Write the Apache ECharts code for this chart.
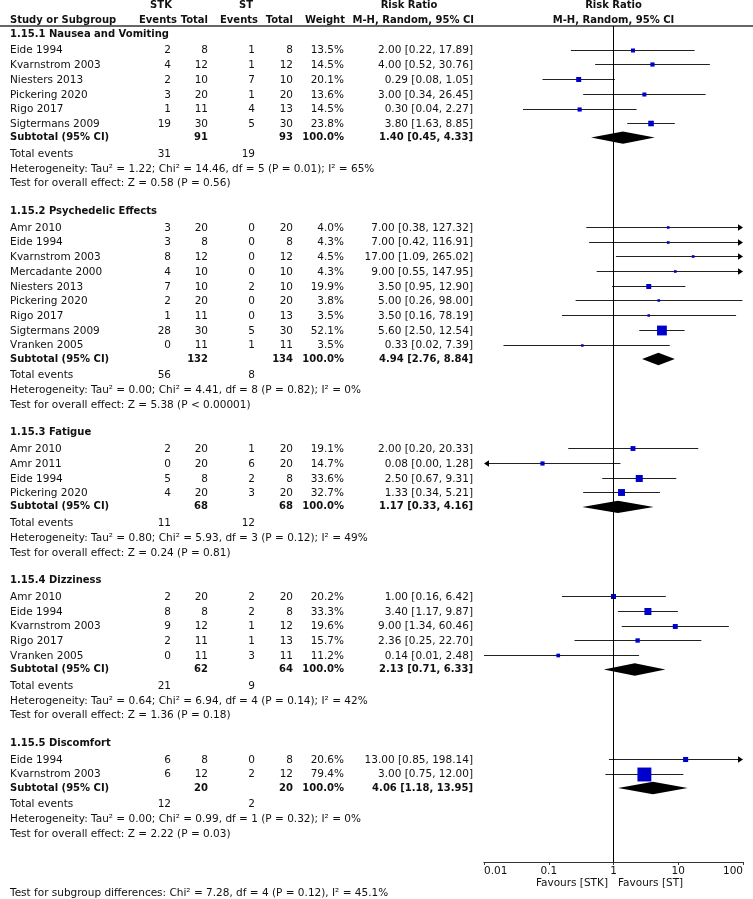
<!DOCTYPE html>
<html><head><meta charset="utf-8">
<script src="https://cdn.jsdelivr.net/npm/echarts@6/dist/echarts.min.js"></script>
<style>html,body{margin:0;padding:0;background:#fff}#c{width:753px;height:899px}</style>
</head><body><div id="c"></div><script>
// ---------- DATA ----------
const groupTitles = ['1.15.1 Nausea and Vomiting','1.15.2 Psychedelic Effects','1.15.3 Fatigue','1.15.4 Dizziness','1.15.5 Discomfort'];
const studyNames = [
  ['Eide 1994','Kvarnstrom 2003','Niesters 2013','Pickering 2020','Rigo 2017','Sigtermans 2009'],
  ['Amr 2010','Eide 1994','Kvarnstrom 2003','Mercadante 2000','Niesters 2013','Pickering 2020','Rigo 2017','Sigtermans 2009','Vranken 2005'],
  ['Amr 2010','Amr 2011','Eide 1994','Pickering 2020'],
  ['Amr 2010','Eide 1994','Kvarnstrom 2003','Rigo 2017','Vranken 2005'],
  ['Eide 1994','Kvarnstrom 2003']
];
const stkEvents = [[2,4,2,3,1,19],[3,3,8,4,7,2,1,28,0],[2,0,5,4],[2,8,9,2,0],[6,6]];
const stkTotal  = [[8,12,10,20,11,30],[20,8,12,10,10,20,11,30,11],[20,20,8,20],[20,8,12,11,11],[8,12]];
const stEvents  = [[1,1,7,1,4,5],[0,0,0,0,2,0,0,5,1],[1,6,2,3],[2,2,1,1,3],[0,2]];
const stTotal   = [[8,12,10,20,13,30],[20,8,12,10,10,20,13,30,11],[20,20,8,20],[20,8,12,13,11],[8,12]];
const weights   = [[13.5,14.5,20.1,13.6,14.5,23.8],[4.0,4.3,4.5,4.3,19.9,3.8,3.5,52.1,3.5],[19.1,14.7,33.6,32.7],[20.2,33.3,19.6,15.7,11.2],[20.6,79.4]];
const riskRatio = [[2.00,4.00,0.29,3.00,0.30,3.80],[7.00,7.00,17.00,9.00,3.50,5.00,3.50,5.60,0.33],[2.00,0.08,2.50,1.33],[1.00,3.40,9.00,2.36,0.14],[13.00,3.00]];
const ciLower   = [[0.22,0.52,0.08,0.34,0.04,1.63],[0.38,0.42,1.09,0.55,0.95,0.26,0.16,2.50,0.02],[0.20,0.00,0.67,0.34],[0.16,1.17,1.34,0.25,0.01],[0.85,0.75]];
const ciUpper   = [[17.89,30.76,1.05,26.45,2.27,8.85],[127.32,116.91,265.02,147.95,12.90,98.00,78.19,12.54,7.39],[20.33,1.28,9.31,5.21],[6.42,9.87,60.46,22.70,2.48],[198.14,12.00]];
const subStkTotal = [91,132,68,62,20];
const subStTotal  = [93,134,68,64,20];
const subRiskRatio = [1.40,4.94,1.17,2.13,4.06];
const subLower = [0.45,2.76,0.33,0.71,1.18];
const subUpper = [4.33,8.84,4.16,6.33,13.95];
const totStkEvents = [31,56,11,21,12];
const totStEvents  = [19,8,12,9,2];
const tau2  = ['1.22','0.00','0.80','0.64','0.00'];
const chi2  = ['14.46','4.41','5.93','6.94','0.99'];
const hetDf = [5,8,3,4,1];
const hetP  = ['0.01','0.82','0.12','0.14','0.32'];
const i2    = [65,0,49,42,0];
const zValue = ['0.58','5.38','0.24','1.36','2.22'];
const zP     = ['P = 0.56','P < 0.00001','P = 0.81','P = 0.18','P = 0.03'];
const subgroupTest = 'Test for subgroup differences: Chi\u00B2 = 7.28, df = 4 (P = 0.12), I\u00B2 = 45.1%';
const tickValues = [0.01,0.1,1,10,100];
const tickLabels = ['0.01','0.1','1','10','100'];
const favourLeft = 'Favours [STK]';
const favourRight = 'Favours [ST]';

// ---------- LAYOUT ----------
const FONT = 'DejaVu Sans';
const REG = 10.5, BOLD = 10;
const TXT = '#111';
const L = {first:34, headToStudy:16.7, pitch:14.7, studyToSub:13.4, subToTot:16.7, totToHet:14.6, hetToTest:14.7, testToHead:27.7, rule:26, axis:862, subgroupY:893};
const COL = {name:10, e1:171, t1:208, e2:255, t2:293, w:344, ci:473};
const X_MIN = 0.01, X_MAX = 100;

const fmtCI = (r, lo, hi) => r.toFixed(2) + ' [' + lo.toFixed(2) + ', ' + hi.toFixed(2) + ']';
const texts = [];
const studyMarks = [];
const diamonds = [];
function T(x, y, t, a, b) { texts.push({x, y, t, a, b: !!b}); }

// headers
T(161, 5, 'STK', 'center', true);
T(246, 5, 'ST', 'center', true);
T(409, 5, 'Risk Ratio', 'center', true);
T(COL.name, 20, 'Study or Subgroup', 'left', true);
T(177, 20, 'Events', 'right', true);
T(208, 20, 'Total', 'right', true);
T(258, 20, 'Events', 'right', true);
T(293, 20, 'Total', 'right', true);
T(345, 20, 'Weight', 'right', true);
T(474, 20, 'M-H, Random, 95% CI', 'right', true);

let y = L.first;
groupTitles.forEach((title, g) => {
  T(COL.name, y, title, 'left', true);
  y += L.headToStudy;
  studyNames[g].forEach((nm, i) => {
    T(COL.name, y, nm, 'left');
    T(COL.e1, y, String(stkEvents[g][i]), 'right');
    T(COL.t1, y, String(stkTotal[g][i]), 'right');
    T(COL.e2, y, String(stEvents[g][i]), 'right');
    T(COL.t2, y, String(stTotal[g][i]), 'right');
    T(COL.w, y, weights[g][i].toFixed(1) + '%', 'right');
    T(COL.ci, y, fmtCI(riskRatio[g][i], ciLower[g][i], ciUpper[g][i]), 'right');
    studyMarks.push([riskRatio[g][i], y, ciLower[g][i], ciUpper[g][i], weights[g][i]]);
    y += L.pitch;
  });
  y += L.studyToSub - L.pitch;
  T(COL.name, y, 'Subtotal (95% CI)', 'left', true);
  T(COL.t1, y, String(subStkTotal[g]), 'right', true);
  T(COL.t2, y, String(subStTotal[g]), 'right', true);
  T(COL.w, y, '100.0%', 'right', true);
  T(COL.ci, y, fmtCI(subRiskRatio[g], subLower[g], subUpper[g]), 'right', true);
  diamonds.push([subRiskRatio[g], y, subLower[g], subUpper[g]]);
  y += L.subToTot;
  T(COL.name, y, 'Total events', 'left');
  T(COL.e1, y, String(totStkEvents[g]), 'right');
  T(COL.e2, y, String(totStEvents[g]), 'right');
  y += L.totToHet;
  T(COL.name, y, 'Heterogeneity: Tau\u00B2 = ' + tau2[g] + '; Chi\u00B2 = ' + chi2[g] + ', df = ' + hetDf[g] + ' (P = ' + hetP[g] + '); I\u00B2 = ' + i2[g] + '%', 'left');
  y += L.hetToTest;
  T(COL.name, y, 'Test for overall effect: Z = ' + zValue[g] + ' (' + zP[g] + ')', 'left');
  y += L.testToHead;
});
T(COL.name, L.subgroupY, subgroupTest, 'left');

// ---------- CHART ----------
const chart = echarts.init(document.getElementById('c'), null, {renderer:'canvas', width:753, height:899});

function textEl(p, t, align, bold, size) {
  return {type:'text', x:p[0], y:p[1], silent:true,
    style:{text:t, fill:TXT, fontFamily:FONT, fontSize:size || (bold ? BOLD : REG), fontWeight: bold ? 'bold' : 'normal', align:align, verticalAlign:'middle'}};
}

const option = {
  animation:false,
  backgroundColor:'#fff',
  grid:[
    {left:0, top:0, width:753, height:899},
    {left:484, top:L.rule, width:259, height:L.axis - L.rule}
  ],
  xAxis:[
    {gridIndex:0, type:'value', min:0, max:753, show:false},
    {gridIndex:1, type:'log', logBase:10, min:X_MIN, max:X_MAX,
      axisLine:{show:true, lineStyle:{color:'#333', width:1.2}},
      axisTick:{show:true, length:3, lineStyle:{color:'#333', width:1}},
      axisLabel:{color:TXT, fontFamily:FONT, fontSize:10.5, margin:4,
        alignMinLabel:'left', alignMaxLabel:'right',
        formatter: v => { const k = tickValues.findIndex(t => Math.abs(Math.log10(t) - Math.log10(v)) < 1e-6); return k >= 0 ? tickLabels[k] : ''; }},
      splitLine:{show:false}, minorTick:{show:false}}
  ],
  yAxis:[
    {gridIndex:0, type:'value', min:0, max:899, inverse:true, show:false},
    {gridIndex:1, type:'value', min:L.rule, max:L.axis, inverse:true, show:false}
  ],
  series:[
    // header rule
    {type:'line', xAxisIndex:0, yAxisIndex:0, data:[[0, L.rule],[753, L.rule]], symbol:'none', silent:true,
      lineStyle:{color:'#333', width:1.3}},
    // table text
    {type:'custom', xAxisIndex:0, yAxisIndex:0, silent:true,
      data: texts.map(c => [c.x, c.y]),
      renderItem:(params, api) => {
        const c = texts[params.dataIndex];
        return textEl(api.coord([api.value(0), api.value(1)]), c.t, c.a, c.b);
      }},
    // line of no effect
    {type:'line', xAxisIndex:1, yAxisIndex:1, data:[[1, L.rule],[1, L.axis]], symbol:'none', silent:true,
      lineStyle:{color:'#000', width:1}},
    // study CIs and squares
    {type:'custom', xAxisIndex:1, yAxisIndex:1, silent:true, clip:false,
      data: studyMarks,
      renderItem:(params, api) => {
        const est = api.value(0), yy = api.value(1), lo = api.value(2), hi = api.value(3), w = api.value(4);
        const loC = Math.max(lo, X_MIN), hiC = Math.min(hi, X_MAX);
        const p1 = api.coord([loC, yy]), p2 = api.coord([hiC, yy]), pc = api.coord([est, yy]);
        const ly = Math.round(pc[1] - 1) + 0.5;
        const kids = [];
        const ah = 5, aw = 3.2;
        const x1 = lo < X_MIN ? p1[0] + ah : p1[0];
        const x2 = hi > X_MAX ? p2[0] - ah : p2[0];
        kids.push({type:'line', shape:{x1:x1, y1:ly, x2:x2, y2:ly}, style:{stroke:'#222', lineWidth:1.2}});
        if (hi > X_MAX) kids.push({type:'polygon', shape:{points:[[p2[0]-ah, ly-aw],[p2[0], ly],[p2[0]-ah, ly+aw]]}, style:{fill:'#000'}});
        if (lo < X_MIN) kids.push({type:'polygon', shape:{points:[[p1[0]+ah, ly-aw],[p1[0], ly],[p1[0]+ah, ly+aw]]}, style:{fill:'#000'}});
        const s = 2 + 0.15 * w;
        kids.push({type:'rect', shape:{x:pc[0]-s/2, y:ly-s/2, width:s, height:s}, style:{fill:'#0000cc'}});
        return {type:'group', children:kids};
      }},
    // subtotal diamonds
    {type:'custom', xAxisIndex:1, yAxisIndex:1, silent:true, clip:false,
      data: diamonds,
      renderItem:(params, api) => {
        const est = api.value(0), yy = api.value(1), lo = api.value(2), hi = api.value(3);
        const pl = api.coord([lo, yy]), pc = api.coord([est, yy]), ph = api.coord([hi, yy]);
        const hh = 6.2;
        return {type:'polygon', shape:{points:[[pl[0], pl[1]],[pc[0], pc[1]-hh],[ph[0], ph[1]],[pc[0], pc[1]+hh]]}, style:{fill:'#000'}};
      }},
    // plot headers and favours labels anchored at the line of no effect
    {type:'custom', xAxisIndex:1, yAxisIndex:1, silent:true, clip:false,
      data: [[1, 0]],
      renderItem:(params, api) => {
        const h1 = api.coord([1, 5]), h2 = api.coord([1, 20]), f = api.coord([1, 883]);
        return {type:'group', children:[
          textEl(h1, 'Risk Ratio', 'center', true),
          textEl(h2, 'M-H, Random, 95% CI', 'center', true),
          textEl([f[0] - 5.5, f[1]], favourLeft, 'right', false),
          textEl([f[0] + 4.5, f[1]], favourRight, 'left', false)
        ]};
      }}
  ]
};
chart.setOption(option);
</script></body></html>
